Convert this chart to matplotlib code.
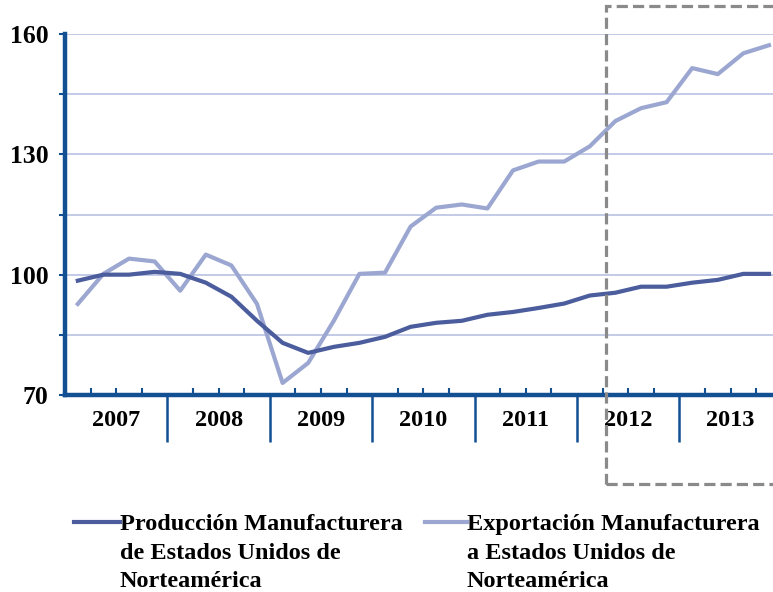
import numpy as np
import matplotlib
matplotlib.use("Agg")
import matplotlib.pyplot as plt
from matplotlib.lines import Line2D
from matplotlib.patches import Rectangle

# quarterly index values, 2007Q1 .. 2013Q4
years = ["2007", "2008", "2009", "2010", "2011", "2012", "2013"]
produccion = [98.5, 100.0, 100.0, 100.7, 100.2, 98.0, 94.5, 88.5,
              83.0, 80.5, 82.0, 83.0, 84.5, 87.0, 88.0, 88.5,
              90.0, 90.7, 91.7, 92.8, 94.8, 95.5, 97.0, 97.0,
              98.0, 98.7, 100.2, 100.2]
exportacion = [92.7, 100.2, 104.0, 103.3, 96.0, 105.0, 102.3, 92.7,
               73.0, 78.0, 88.5, 100.2, 100.5, 112.0, 116.7, 117.5,
               116.5, 126.0, 128.2, 128.2, 132.0, 138.3, 141.5, 143.0,
               151.5, 150.0, 155.2, 157.2]
yticks = [70, 100, 130, 160]
yminor = [85, 115, 145]
label_prod = "Producción Manufacturera\nde Estados Unidos de\nNorteamérica"
label_exp = "Exportación Manufacturera\na Estados Unidos de\nNorteamérica"

plt.rcParams["font.family"] = ["Liberation Serif", "DejaVu Serif"]
plt.rcParams["font.weight"] = "bold"

W, H = 773, 592
fig = plt.figure(figsize=(W / 100, H / 100), dpi=100)
ax_left, ax_bottom, ax_top = 65, 395, 34
q_w = 25.6
ax = fig.add_axes([ax_left / W, 1 - ax_bottom / H,
                   28 * q_w / W, (ax_bottom - ax_top) / H])

spine_c = "#134f93"
c_prod = "#4b5d9d"
c_exp = "#9ba7d1"
grid_c = "#b9c1e2"

x = np.arange(len(produccion))
ax.plot(x, exportacion, color=c_exp, lw=3.0, zorder=3)
ax.plot(x, produccion, color=c_prod, lw=3.0, zorder=4)

ax.set_xlim(-0.5, len(x) - 0.5)
ax.set_ylim(70, 160)

ax.set_yticks(yticks)
ax.set_yticks(yminor, minor=True)
ax.set_yticklabels([str(v) for v in yticks], fontsize=18.5, fontweight="bold")
ax.yaxis.grid(True, which="both", color=grid_c, lw=1.2)
ax.set_axisbelow(True)
ax.tick_params(axis="y", which="both", direction="out", length=4,
               width=1.5, color=spine_c, pad=8)

bounds = np.arange(-0.5, len(x), 4)
ax.set_xticks(bounds[1:])
ax.set_xticklabels([])
ax.set_xticks(np.arange(0.5, len(x), 1), minor=True)
ax.tick_params(axis="x", which="major", direction="out", length=34,
               width=1.8, color=spine_c)
ax.tick_params(axis="x", which="minor", direction="in", length=5,
               width=1.5, color=spine_c)

for i, yr in enumerate(years):
    ax.annotate(yr, (i * 4 + 1.5, 0), xycoords=("data", "axes fraction"),
                xytext=(0, -18), textcoords="offset points",
                ha="center", va="center", fontsize=17.5, fontweight="bold")

for s in ["top", "right"]:
    ax.spines[s].set_visible(False)
for s in ["left", "bottom"]:
    ax.spines[s].set_color(spine_c)
    ax.spines[s].set_linewidth(3.2)

# dashed highlight box around 2012-2013
fig.add_artist(Rectangle((606 / W, 1 - 484 / H), 200 / W, 478 / H,
                         transform=fig.transFigure, fill=False,
                         edgecolor="#8a8a8a", lw=2.3, ls=(0, (3.5, 1.6)),
                         zorder=10))

# legend
for lx0, lx1, tx, col, lab in [(74, 120, 120, c_prod, label_prod),
                               (425, 467, 467, c_exp, label_exp)]:
    fig.add_artist(Line2D([lx0 / W, lx1 / W], [1 - 522 / H, 1 - 522 / H],
                          transform=fig.transFigure, color=col, lw=3.0))
    fig.text(tx / W, 1 - 514 / H, lab, ha="left", va="top", fontsize=17.5,
             fontweight="bold", linespacing=1.47)

fig.savefig("out.png", dpi=100)
